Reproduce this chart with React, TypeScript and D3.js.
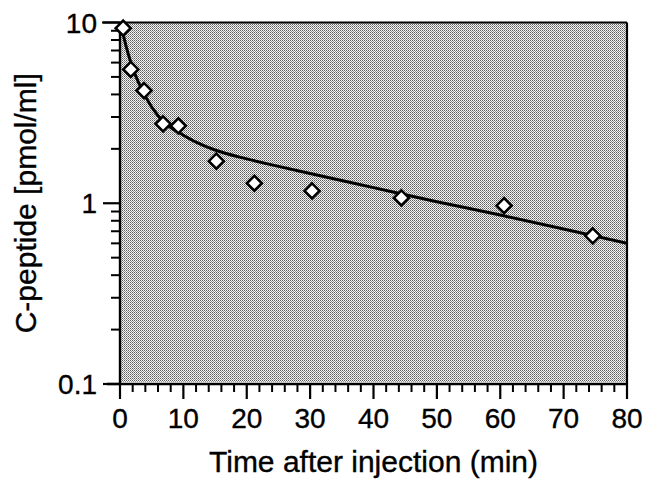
import React from "react";
import * as d3 from "d3";

// Measured data points (time in min, C-peptide in pmol/ml)
const obsTime = [0.5, 1.7, 3.8, 6.8, 9.2, 15.2, 21.2, 30.3, 44.4, 60.6, 74.6];
const obsConc = [9.3, 5.5, 4.2, 2.75, 2.68, 1.71, 1.29, 1.17, 1.07, 0.97, 0.66];

// Fitted curve
const fitTime = [0, 0.5, 1, 2, 3, 4, 6, 8, 10, 12, 15, 20, 25, 30, 40, 50, 60, 70, 80];
const fitConc = [10, 8.6, 7.3, 5.6, 4.6, 3.9, 3.05, 2.62, 2.38, 2.18, 1.97, 1.76, 1.6, 1.46, 1.22, 1.02, 0.86, 0.72, 0.6];

const xTickValues = [0, 10, 20, 30, 40, 50, 60, 70, 80];
const yTickValues = [0.1, 1, 10];
const yTickLabels = ["0.1", "1", "10"];

const xTitle = "Time after injection (min)";
const yTitle = "C-peptide [pmol/ml]";

const W = 660;
const H = 483;
const left = 120;
const right = 627;
const top = 22.5;
const bottom = 384;

export default function App() {
  const x = d3.scaleLinear().domain([0, 80]).range([left, right]);
  const y = d3.scaleLog().domain([0.1, 10]).range([bottom, top]);

  const xMinor = d3.range(0, 81, 2).filter((v) => v % 10 !== 0);
  const yMinor = y.ticks().filter((v) => !yTickValues.some((t) => Math.abs(t - v) < 1e-9));

  const fit = fitTime.map((t, i) => [t, fitConc[i]] as [number, number]);
  const line = d3
    .line<[number, number]>()
    .x((d) => x(d[0]))
    .y((d) => y(d[1]))
    .curve(d3.curveMonotoneX);

  const pts = obsTime.map((t, i) => ({ t, c: obsConc[i] }));
  const diamond = (cx: number, cy: number, r: number) =>
    `M${cx},${cy - r}L${cx + r},${cy}L${cx},${cy + r}L${cx - r},${cy}Z`;

  const font = "'Liberation Sans', Arial, Helvetica, sans-serif";
  const textStroke = { stroke: "#000", strokeWidth: 0.35 };

  return (
    <svg
      width={W}
      height={H}
      viewBox={`0 0 ${W} ${H}`}
      style={{ position: "absolute", left: 0, top: 0, background: "#fff" }}
    >
      <defs>
        <pattern id="stipple" width="2" height="2" patternUnits="userSpaceOnUse">
          <rect width="2" height="2" fill="#f4f4f4" />
          <rect x="0" y="0" width="1" height="1" fill="#5e5e5e" />
          <rect x="1" y="1" width="1" height="1" fill="#909090" />
        </pattern>
        <clipPath id="plotclip">
          <rect x={left} y={top} width={right - left} height={bottom - top} />
        </clipPath>
      </defs>

      {/* shaded plot area */}
      <rect x={left} y={top} width={right - left} height={bottom - top - 2} fill="url(#stipple)" />

      {/* frame */}
      <line x1={x(0) - 18} x2={right} y1={top} y2={top} stroke="#000" strokeWidth={2.2} />
      <line x1={right} x2={right} y1={top} y2={bottom} stroke="#000" strokeWidth={2.2} />
      <line x1={left} x2={left} y1={top} y2={bottom} stroke="#000" strokeWidth={2.4} />
      <line x1={left - 13} x2={right} y1={bottom} y2={bottom} stroke="#000" strokeWidth={2.4} />

      {/* y ticks */}
      {yTickValues.map((v) => (
        <line key={"ym" + v} x1={left - 17} x2={left} y1={y(v)} y2={y(v)} stroke="#000" strokeWidth={2.2} />
      ))}
      {yMinor.map((v) => (
        <line key={"yn" + v} x1={left - 9} x2={left} y1={y(v)} y2={y(v)} stroke="#000" strokeWidth={2} />
      ))}
      {yTickValues.map((v, i) => (
        <text
          key={"yl" + v}
          x={97}
          y={y(v)}
          dy="0.36em"
          textAnchor="end"
          fontFamily={font}
          fontSize={28}
          fill="#000"
          {...textStroke}
        >
          {yTickLabels[i]}
        </text>
      ))}

      {/* x ticks */}
      {xTickValues.map((v) => (
        <line key={"xm" + v} x1={x(v)} x2={x(v)} y1={bottom} y2={bottom + 15} stroke="#000" strokeWidth={2.2} />
      ))}
      {xMinor.map((v) => (
        <line key={"xn" + v} x1={x(v)} x2={x(v)} y1={bottom} y2={bottom + 8} stroke="#000" strokeWidth={2} />
      ))}
      {xTickValues.map((v) => (
        <text
          key={"xl" + v}
          x={x(v)}
          y={428}
          textAnchor="middle"
          fontFamily={font}
          fontSize={28}
          fill="#000"
          {...textStroke}
        >
          {v}
        </text>
      ))}

      {/* fitted curve */}
      <path d={line(fit) || ""} fill="none" stroke="#000" strokeWidth={3} clipPath="url(#plotclip)" />

      {/* data points */}
      {pts.map((p, i) => (
        <path
          key={"p" + i}
          d={diamond(x(p.t), y(p.c), 7.5)}
          fill="#fff"
          stroke="#000"
          strokeWidth={2.6}
        />
      ))}

      {/* titles */}
      <text
        x={(left + right) / 2}
        y={472}
        textAnchor="middle"
        fontFamily={font}
        fontSize={30}
        fill="#000"
        {...textStroke}
      >
        {xTitle}
      </text>
      <text
        transform={`translate(36,${(top + bottom) / 2}) rotate(-90)`}
        textAnchor="middle"
        fontFamily={font}
        fontSize={30}
        fill="#000"
        {...textStroke}
      >
        {yTitle}
      </text>
    </svg>
  );
}
